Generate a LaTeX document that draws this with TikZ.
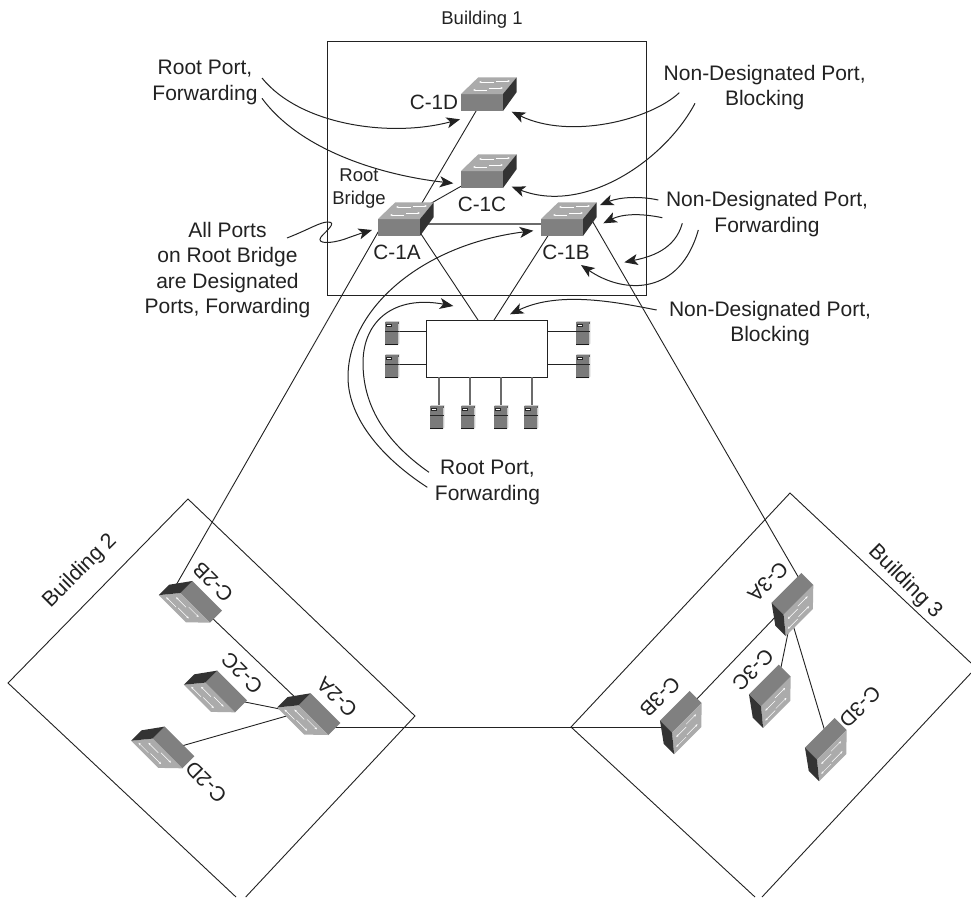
\documentclass[tikz,border=0pt]{standalone}
\usepackage{fontspec}
\setmainfont{Liberation Sans}
\usetikzlibrary{arrows.meta}
\definecolor{ink}{HTML}{222222}
\definecolor{swfront}{HTML}{808080}
\definecolor{swtop}{HTML}{ABABAB}
\definecolor{swside}{HTML}{333333}
\tikzset{
  x=1pt,y=-1pt,
  frame/.style={draw=ink,line width=0.9pt},
  link/.style={draw=ink,line width=0.9pt},
  glink/.style={draw=black!58,line width=1.7pt},
  callout/.style={draw=ink,line width=1pt,-{Stealth[length=13.5pt,width=11pt,inset=3.5pt]}},
  big/.style={text=ink,inner sep=0pt,align=center,font=\fontsize{21}{25.3}\selectfont},
  small/.style={text=ink,inner sep=0pt,align=center,font=\fontsize{18.5}{23}\selectfont},
  turned/.style={text=ink,inner sep=0pt,font=\fontsize{21.5}{24}\selectfont},
  swtext/.style={text=ink,inner sep=0pt,font=\fontsize{20.7}{24}\selectfont},
  whitearrow/.style={draw=white,line width=0.5pt,-{Stealth[length=2.6pt,width=2.2pt]}},
  sw/.pic={
    \fill[swfront] (0,0) -- (42,0) -- (42,17) -- (0,17) -- cycle;
    \fill[swtop] (0,0) -- (17.3,-16.7) -- (55.7,-16.7) -- (42,0) -- cycle;
    \fill[swside] (42,0) -- (55.7,-16.7) -- (55.7,-2) -- (42,17) -- cycle;
    \draw[whitearrow] (33,-12) -- (18,-12);
    \draw[whitearrow] (35,-13) -- (49,-13);
    \draw[whitearrow] (26,-4) -- (12,-4);
    \draw[whitearrow] (28,-6) -- (42,-6);
  },
  srv/.pic={
    \fill[black!20] (0,1) -- (1.5,0) -- (14.3,0) -- (14.3,22.5) -- (13,24) -- (0,24) -- cycle;
    \fill[black!52] (0,1.2) rectangle (12.6,23);
    \fill[black!65] (12.6,1.2) rectangle (14.3,3);
    \fill[black!85] (0,10) rectangle (13.5,11);
    \fill[black!90] (0,22.6) rectangle (13,24);
    \fill[black!85] (1.3,2.8) rectangle (7.2,6);
    \fill[white] (2,3.6) rectangle (6.4,5.2);
  },
}
\begin{document}
\begin{tikzpicture}
\useasboundingbox (0,0) rectangle (971,897);
\fill[white] (0,0) rectangle (971,897);

% building outlines
\draw[frame] (327,41) rectangle (646,295);
\draw[frame] (236,897) -- (8,683) -- (188,499) -- (415,716) -- (245.7,897);
\draw[frame] (755,897) -- (571,727) -- (790,493) -- (971,663);
\draw[frame] (971,673) -- (762,897);

% connector ends
\coordinate (c1dA) at (479,106);
\coordinate (c1aD) at (419,208);
\coordinate (c1cA) at (465,184);
\coordinate (c1aC) at (428,205);
\coordinate (c1aB) at (415,224);
\coordinate (c1bA) at (545,224);
\coordinate (c1a2) at (381,227);
\coordinate (c2b1) at (175,587);
\coordinate (c1aH) at (417,228);
\coordinate (c1bH) at (551,231);
\coordinate (c1b3) at (590,217);
\coordinate (c3a1) at (800,580);
\coordinate (c2aB) at (300,702);
\coordinate (c2bA) at (209,615);
\coordinate (c2cA) at (240,701);
\coordinate (c2aC) at (285,710);
\coordinate (c2dA) at (178,747);
\coordinate (c2aD) at (290,715);
\coordinate (c2a3) at (335,727.5);
\coordinate (c3b2) at (665,727.5);
\coordinate (c3aB) at (780,612);
\coordinate (c3bA) at (694,702);
\coordinate (c3aC) at (789,628);
\coordinate (c3cA) at (780,672);
\coordinate (c3aD) at (793,625);
\coordinate (c3dA) at (826,735);

\node[draw=ink,line width=0.9pt,fill=white,minimum width=121pt,minimum height=57pt,inner sep=0pt] (hub) at (486.5,348.5) {};
\coordinate (hubA) at (478,320);
\coordinate (hubB) at (494,320);

\coordinate (sl1) at (399,331);
\coordinate (sl2) at (399,364);
\coordinate (sr1) at (576,331);
\coordinate (sr2) at (576,364);
\coordinate (sb1) at (439,405);
\coordinate (sb2) at (470,405);
\coordinate (sb3) at (501,405);
\coordinate (sb4) at (532,405);

% connectors
\draw[link] (c1dA) -- (c1aD);
\draw[link] (c1cA) -- (c1aC);
\draw[glink] (c1aB) -- (c1bA);
\draw[link] (c1a2) -- (c2b1);
\draw[link] (c1aH) -- (hubA);
\draw[link] (c1bH) -- (hubB);
\draw[link] (c1b3) -- (c3a1);
\draw[link] (c2aB) -- (c2bA);
\draw[link] (c2cA) -- (c2aC);
\draw[link] (c2dA) -- (c2aD);
\draw[link] (c2a3) -- (c3b2);
\draw[link] (c3aB) -- (c3bA);
\draw[link] (c3aC) -- (c3cA);
\draw[link] (c3aD) -- (c3dA);
\draw[link] (sl1) -- (sl1 -| hub.west);
\draw[link] (sl2) -- (sl2 -| hub.west);
\draw[link] (sr1) -- (sr1 -| hub.east);
\draw[link] (sr2) -- (sr2 -| hub.east);
\draw[glink,line width=1.2pt] (sb1) -- (sb1 |- hub.south);
\draw[glink,line width=1.2pt] (sb2) -- (sb2 |- hub.south);
\draw[glink,line width=1.2pt] (sb3) -- (sb3 |- hub.south);
\draw[glink,line width=1.2pt] (sb4) -- (sb4 |- hub.south);

% switches
\pic at (461,94) {sw};
\pic at (461,171) {sw};
\pic at (378,219) {sw};
\pic at (541,219) {sw};
\pic[rotate=135] at (328.3,735) {sw};
\pic[rotate=135] at (210,622.7) {sw};
\pic[rotate=135] at (235,712.3) {sw};
\pic[rotate=135] at (182.3,768.3) {sw};
\pic[rotate=225] at (813.3,585) {sw};
\pic[rotate=225] at (701.7,703) {sw};
\pic[rotate=225] at (790.7,676.7) {sw};
\pic[rotate=225] at (846.7,730) {sw};

% servers
\pic at (385,321) {srv};
\pic at (385,354) {srv};
\pic at (576,321) {srv};
\pic at (576,354) {srv};
\pic at (430,405) {srv};
\pic at (461,405) {srv};
\pic at (494,405) {srv};
\pic at (524,405) {srv};

% labels
\node[small] (b1) at (482,20) {Building 1};
\node[turned,rotate=45] (b2) at (80,571) {Building 2};
\node[turned,rotate=-45] (b3) at (905,582) {Building 3};
\node[swtext] (l1d) at (434,102) {C-1D};
\node[swtext] (l1c) at (482,204) {C-1C};
\node[swtext] (l1a) at (397,252) {C-1A};
\node[swtext] (l1b) at (566,252) {C-1B};
\node[swtext,rotate=135] (l2b) at (213,582) {C-2B};
\node[swtext,rotate=135] (l2c) at (242,673) {C-2C};
\node[swtext,rotate=135] (l2a) at (337,697) {C-2A};
\node[swtext,rotate=135] (l2d) at (206,782) {C-2D};
\node[swtext,rotate=225] (l3a) at (768,582) {C-3A};
\node[swtext,rotate=225] (l3b) at (660,697) {C-3B};
\node[swtext,rotate=225] (l3c) at (753,670) {C-3C};
\node[swtext,rotate=225] (l3d) at (860,707) {C-3D};
\node[small] (rb) at (359,188.5) {Root\\Bridge};
\node[big] (t1) at (205,82.5) {Root Port,\\Forwarding};
\node[big] (t2) at (227.5,270) {All Ports\\on Root Bridge\\are Designated\\Ports, Forwarding};
\node[big] (t3) at (764.7,87.5) {Non-Designated Port,\\Blocking};
\node[big] (t4) at (767,214) {Non-Designated Port,\\Forwarding};
\node[big] (t5) at (770,323.5) {Non-Designated Port,\\Blocking};
\node[big] (t6) at (487.5,482.5) {Root Port,\\Forwarding};

% callout arrows
\coordinate (a1s) at (262,78);   \coordinate (a1e) at (460,119.3);
\coordinate (a2s) at (262,98.3); \coordinate (a2e) at (453.3,183.3);
\coordinate (a3s) at (287,238);  \coordinate (a3e) at (372,230);
\coordinate (a4s) at (679.3,92.7); \coordinate (a4e) at (511.7,111.7);
\coordinate (a5s) at (695,103.3);  \coordinate (a5e) at (511.7,186.7);
\coordinate (a6s) at (658.3,200);  \coordinate (a6e) at (600,205);
\coordinate (a7s) at (662.3,217.7); \coordinate (a7e) at (603.3,223.3);
\coordinate (a8s) at (682.3,223.3); \coordinate (a8e) at (624.3,262.3);
\coordinate (a9s) at (698.3,230);   \coordinate (a9e) at (581,265);
\coordinate (a10s) at (656.7,310);  \coordinate (a10e) at (510,314.3);
\coordinate (a11s) at (427.3,487.3); \coordinate (a11e) at (533.3,230.7);
\coordinate (a12s) at (429,472.3);   \coordinate (a12e) at (453.3,306);
\draw[callout] (a1s) .. controls (300,125) and (390,138) .. (a1e);
\draw[callout] (a2s) .. controls (300,150) and (380,175) .. (a2e);
\draw[callout] (a3s) .. controls (310,229) and (320,222) .. (328,222) .. controls (338,222) and (325,232) .. (321,237) .. controls (316,244) and (330,244) .. (345,239) .. controls (353,236) and (362,233) .. (a3e);
\draw[callout] (a4s) .. controls (650,120) and (570,140) .. (a4e);
\draw[callout] (a5s) .. controls (665,160) and (585,215) .. (a5e);
\draw[callout] (a6s) .. controls (640,196) and (620,197) .. (a6e);
\draw[callout] (a7s) .. controls (640,213) and (622,214) .. (a7e);
\draw[callout] (a8s) .. controls (675,250) and (650,257) .. (a8e);
\draw[callout] (a9s) .. controls (680,295) and (625,295) .. (a9e);
\draw[callout] (a10s) .. controls (620,303) and (560,290) .. (a10e);
\draw[callout] (a11s) .. controls (385,460) and (348,420) .. (348,377) .. controls (348,310) and (420,245) .. (a11e);
\draw[callout] (a12s) .. controls (390,445) and (363,410) .. (363,363) .. controls (363,320) and (395,295) .. (a12e);
\end{tikzpicture}
\end{document}
